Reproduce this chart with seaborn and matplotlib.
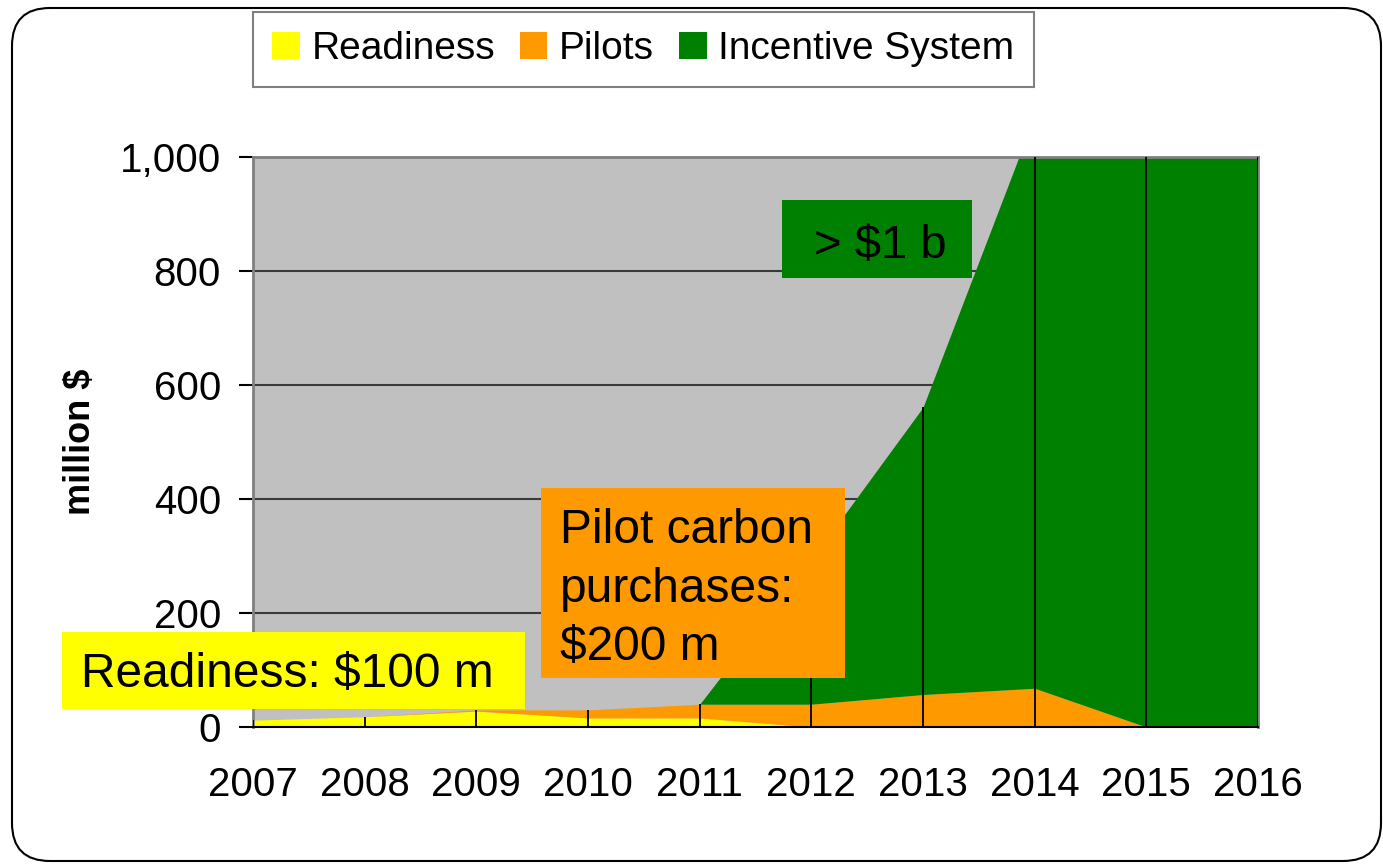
import numpy as np
import pandas as pd
import matplotlib
matplotlib.use("Agg")
import matplotlib.pyplot as plt
from matplotlib.patches import Rectangle, FancyBboxPatch
import seaborn as sns

# ======== chart data ========
years = [2007, 2008, 2009, 2010, 2011, 2012, 2013, 2014, 2015, 2016]
readiness = [12, 18, 28, 16, 16, 0, 0, 0, 0, 0]
pilots = [0, 0, 2, 14, 24, 40, 57, 68, 0, 0]
incentive = [0, 0, 0, 0, 0, 253, 504, 1004, 1200, 1200]
series_names = ["Readiness", "Pilots", "Incentive System"]
y_ticks = [0, 200, 400, 600, 800, 1000]
y_tick_labels = ["0", "200", "400", "600", "800", "1,000"]

colors = ["#FFFF00", "#FF9900", "#008000"]

df = pd.DataFrame({"year": years, "Readiness": readiness,
                   "Pilots": pilots, "Incentive System": incentive})
df["total"] = df[series_names].sum(axis=1)

# ======== style ========
sns.set_theme(style="white")
plt.rcParams["font.family"] = ["Liberation Sans", "DejaVu Sans"]
plt.rcParams["text.color"] = "black"
plt.rcParams["axes.labelcolor"] = "black"
plt.rcParams["xtick.color"] = "black"
plt.rcParams["ytick.color"] = "black"

fig = plt.figure(figsize=(13.83, 8.67), dpi=100)
ax = fig.add_axes([253 / 1383, 1 - 727 / 867, 1005 / 1383, 570 / 867])
ax.set_facecolor("#C0C0C0")

# grid behind the areas
for v in y_ticks[1:]:
    ax.axhline(v, color="#3a3a3a", lw=1.5, zorder=1)

polys = ax.stackplot(df["year"], df["Readiness"], df["Pilots"], df["Incentive System"],
                     colors=colors, labels=series_names, zorder=2, lw=0)

# drop lines at every year
ax.vlines(df["year"], 0, df["total"].clip(upper=1000), color="black", lw=1.3, zorder=3)

ax.set_xlim(years[0], years[-1])
ax.set_ylim(0, 1000)
ax.set_xticks(years)
ax.set_xticklabels([str(y) for y in years], fontsize=29)
ax.set_yticks(y_ticks)
ax.set_yticklabels(y_tick_labels, fontsize=29)
ax.tick_params(axis="y", direction="out", length=10, width=1.5, color="black", pad=13, left=True)
ax.tick_params(axis="x", length=0, pad=28)
ax.grid(False)

for side in ["left", "top", "right"]:
    ax.spines[side].set_color("#808080")
    ax.spines[side].set_linewidth(2)
ax.spines["bottom"].set_color("black")
ax.spines["bottom"].set_linewidth(1.5)

ax.set_ylabel("million $", fontsize=26, fontweight="bold")
ax.yaxis.set_label_coords(-0.154, 0.5)

# ======== legend ========
leg = fig.legend(handles=polys, labels=series_names, loc="upper left", ncol=3,
                 bbox_to_anchor=(2.53, 8.55), bbox_transform=fig.dpi_scale_trans,
                 borderaxespad=0, fontsize=28, handlelength=0.7, handleheight=0.7,
                 handletextpad=0.3, columnspacing=0.65, borderpad=0.5,
                 fancybox=False, framealpha=1)
leg.get_frame().set_edgecolor("#808080")
leg.get_frame().set_linewidth(1.5)

# ======== annotation boxes ========
tr = fig.dpi_scale_trans
fig.add_artist(Rectangle((0.62, 1.58), 4.63, 0.77, transform=tr, facecolor="#FFFF00", edgecolor="none", zorder=2))
fig.text(2.87, 1.92, "Readiness: $100 m", transform=tr, fontsize=34.5, ha="center", va="center", zorder=3)

fig.add_artist(Rectangle((5.41, 1.89), 3.04, 1.90, transform=tr, facecolor="#FF9900", edgecolor="none", zorder=2))
fig.text(5.60, 2.78, "Pilot carbon\npurchases:\n$200 m", transform=tr, fontsize=34.5,
         ha="left", va="center", linespacing=1.38, zorder=3)

fig.add_artist(Rectangle((7.82, 5.89), 1.90, 0.78, transform=tr, facecolor="#008000", edgecolor="none", zorder=2))
fig.text(8.80, 6.21, "> $1 b", transform=tr, fontsize=34, ha="center", va="center", zorder=3)

# ======== rounded outer frame ========
fig.add_artist(FancyBboxPatch((0.12, 0.06), 13.69, 8.53, boxstyle="round,pad=0,rounding_size=0.38",
                              transform=tr, facecolor="none", edgecolor="black", lw=1.5, zorder=1))

fig.savefig("out.png", dpi=100)
